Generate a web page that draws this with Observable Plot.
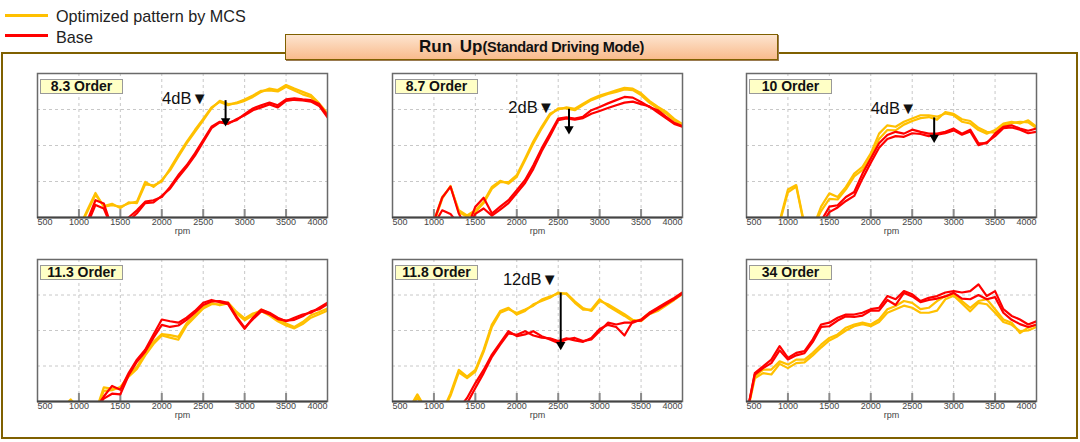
<!DOCTYPE html>
<html><head><meta charset="utf-8">
<script src="https://cdn.jsdelivr.net/npm/d3@7"></script>
<script src="https://cdn.jsdelivr.net/npm/@observablehq/plot@0.6"></script>
<style>
body{margin:0;background:#fff;font-family:"Liberation Sans",Arial,sans-serif;}
#root{position:relative;width:1080px;height:442px;overflow:hidden;background:#fff;}
.leg-line{position:absolute;height:3px;}
.leg-text{position:absolute;font-size:16.2px;color:#222;line-height:18px;white-space:nowrap;}
.frame{position:absolute;left:1px;top:52px;width:1077px;height:387px;border:2px solid #7F6000;box-sizing:border-box;}
.title{position:absolute;left:285px;top:34px;width:493px;height:26px;box-sizing:border-box;border:1.5px solid #7F6000;
  background:linear-gradient(to bottom,#fde4cf,#f9bb8c);box-shadow:1px 1px 0 #9a7a50;text-align:center;
  font-weight:bold;color:#111;line-height:24px;white-space:nowrap;}
.title .big{font-size:17px;word-spacing:3px;}
.title .small{font-size:14.5px;letter-spacing:-0.3px;}
.tag{position:absolute;width:83px;height:15px;box-sizing:border-box;border:1px solid #999;background:#ffffc6;
  font-weight:bold;font-size:14px;line-height:13px;text-align:center;color:#111;white-space:nowrap;}
.panel{position:absolute;}
</style></head><body><div id="root"></div>
<script>
// ---- data (each series ends at 4000 rpm, step 100 rpm) ----
const rpmTicks = [500,1000,1500,2000,2500,3000,3500,4000];
const gridRpm = [1000,1500,2000,2500,3000,3500];
const gridDb = [10,20,30];
const panelTitles = ["8.3 Order","8.7 Order","10 Order","11.3 Order","11.8 Order","34 Order"];
const legendLabels = ["Optimized pattern by MCS","Base"];

// 8.3 Order
const opt83a = [-3,2.0,6.8,3.0,3.4,3.0,3.9,4.4,9.9,8.5,10.4,13.1,16.9,20.6,23.8,27.0,30.3,32.4,31.5,31.7,32.4,33.5,34.9,35.8,35.4,36.8,35.8,34.9,34.0,31.7,28.9];
const opt83b = [-3,1.5,6.3,3.2,3.8,2.6,4.2,4.0,9.2,8.9,10.0,13.6,17.4,21.0,24.3,27.4,30.6,32.1,31.2,31.9,32.8,33.9,35.2,35.3,35.0,36.3,35.3,34.2,33.5,31.2,28.3];
const base83a = [-1,4.8,3.9,-3,-3,0,2.0,4.4,4.8,5.7,8.5,11.8,14.5,17.8,21.5,25.2,26.6,26.3,27.0,28.7,30.3,31.2,31.9,31.2,32.8,33.1,32.8,32.6,31.5,28.4];
const base83b = [-2,3.5,2.5,-3,-3,-1,1.2,4.0,4.2,6.0,8.0,11.2,14.0,17.2,21.0,24.8,26.4,26.0,27.3,28.4,29.8,30.6,31.4,30.6,32.4,32.7,32.5,32.2,31.0,27.8];
// 8.7 Order
const opt87a = [-1,5.7,8.5,2.0,0.6,2.0,4.4,8.5,10.2,9.4,11.3,15.9,20.6,24.7,28.4,30.3,30.3,29.8,31.2,32.6,33.5,34.3,34.9,35.6,35.4,34.0,31.9,30.3,28.9,27.0,25.6];
const opt87b = [-1.5,5.2,8.8,1.5,0.2,1.5,4.0,8.0,9.8,9.8,11.8,16.4,21.2,25.2,28.8,30.0,30.6,30.2,31.6,32.9,33.9,34.6,35.3,36.0,35.8,34.5,32.4,30.8,29.4,27.4,25.9];
const base87a = [-1,5.5,8.6,1.1,-3,3.0,5.5,1.1,3.0,4.8,7.6,10.4,14.5,19.2,23.3,27.5,27.8,27.5,28.0,29.8,30.7,31.7,32.6,33.5,33.3,32.1,30.7,29.8,28.0,26.3,25.4];
const base87b = [-2,2.0,1.0,-2,-3,1.0,2.5,0.5,2.2,4.0,6.8,9.6,13.5,18.4,22.6,27.0,27.5,27.2,27.6,28.8,29.6,30.4,31.2,31.9,32.2,31.5,30.9,29.2,27.6,26.0,25.2];
// 10 Order
const opt10a = [-1,7.8,9.0,-2,-3,3.0,6.7,5.7,8.5,12.2,14.1,17.8,23.3,25.6,25.2,26.6,27.5,28.4,28.4,28.0,28.9,28.4,26.6,26.1,24.3,23.3,24.3,26.1,26.6,26.1,27.0,25.2];
const opt10b = [-1.5,7.0,8.6,-2.5,-3,1.8,5.2,5.0,7.8,11.4,13.2,16.8,21.8,24.3,24.2,25.8,26.8,27.6,27.9,27.2,29.3,28.8,27.3,26.8,24.9,23.8,23.6,25.6,26.2,26.6,26.4,24.8];
const base10a = [-1,3.0,3.4,5.7,7.1,12.2,16.4,20.6,22.9,23.8,23.3,24.4,23.8,23.3,23.3,23.8,24.7,23.3,24.4,20.6,20.6,23.3,25.2,25.6,24.7,24.1,24.7];
const base10b = [-2,1.5,2.8,4.6,6.0,10.8,15.2,19.4,21.8,22.6,22.4,23.4,23.2,22.6,23.0,23.4,24.2,23.0,23.9,20.1,20.9,22.6,24.8,25.0,24.4,23.4,23.8];
// 11.3 Order
const opt113a = [-2,0.6,-2,-3,-3,4.0,3.6,3.7,7.5,9.8,13.6,16.8,19.0,18.7,18.2,22.0,24.3,26.6,27.8,27.1,27.6,24.8,22.9,24.3,25.9,24.8,23.1,22.0,21.0,22.4,24.3,25.2,26.2];
const opt113b = [-2,0.2,-2,-3,-3,3.0,3.2,4.1,7.0,9.2,13.0,16.2,18.6,18.0,17.4,21.4,23.8,26.2,27.4,27.4,27.9,25.3,23.4,24.8,25.5,24.2,22.6,21.4,20.6,21.8,23.6,24.6,25.6];
const base113a = [-2,1.4,4.4,3.3,8.0,11.8,14.6,18.9,23.1,22.6,22.2,23.6,25.5,27.8,28.6,28.0,27.4,23.6,20.5,23.6,25.9,25.0,23.6,22.6,23.6,24.5,25.0,26.4,27.8];
const base113b = [-2,0.8,2.2,2.0,7.4,11.2,14.0,18.0,21.6,21.0,21.4,23.0,25.0,27.2,28.2,28.3,27.8,24.0,20.8,23.2,25.4,24.6,23.2,22.8,23.0,24.0,25.4,26.0,27.4];
// 11.8 Order
const opt118a = [-2,2.0,-2,-3,-3,2.3,8.9,7.0,8.9,14.6,21.7,25.5,26.4,24.5,25.5,27.4,28.3,29.2,30.7,30.2,27.8,25.9,25.9,28.8,26.9,25.5,24.1,22.6,23.1,25.0,25.9,27.4,29.0,30.7];
const opt118b = [-2,1.0,-2,-3,-3,1.6,8.2,6.6,8.4,14.0,21.0,25.0,26.0,24.9,25.9,27.0,28.7,29.6,30.4,30.5,28.2,26.3,25.5,28.3,27.4,26.0,24.6,23.0,22.6,24.6,25.5,27.0,28.6,30.3];
const base118a = [-2,1.0,5.2,8.9,13.2,16.5,19.8,18.4,18.9,19.8,18.4,17.5,16.5,17.5,17.9,17.0,17.5,19.8,22.2,21.7,22.2,22.2,23.1,25.0,26.4,27.8,29.2,30.7];
const base118b = [-2,-0.5,3.8,8.0,12.6,16.0,19.2,18.8,19.8,18.6,18.0,17.8,17.0,17.8,17.2,16.8,17.9,20.4,21.6,21.0,18.6,22.6,22.8,24.6,26.0,27.4,28.8,30.4];
// 34 Order
const opt34a = [-4,7.0,9.0,9.0,11.3,10.4,11.8,11.8,13.7,16.0,17.9,18.9,20.8,21.7,22.2,21.7,23.1,26.0,26.9,28.3,27.8,26.0,26.4,28.3,29.7,30.2,28.3,26.4,28.3,28.8,26.0,23.1,22.2,19.3,20.8,21.7];
const opt34b = [-4,6.5,8.0,7.6,10.6,9.4,10.8,11.0,13.0,15.2,17.2,18.4,20.0,21.2,21.8,21.2,22.4,25.0,26.0,27.0,26.4,25.0,25.0,25.6,28.8,29.8,27.6,25.4,27.8,27.4,25.0,22.4,21.6,19.8,20.0,21.0];
const base34a = [-4,8.0,9.9,11.8,15.6,12.3,13.7,14.2,17.5,21.7,22.2,23.6,24.5,24.5,25.0,26.0,26.4,29.7,28.8,31.1,30.2,28.3,29.2,29.7,30.7,31.1,30.7,31.1,33.0,29.7,31.1,26.0,24.1,23.1,21.7,22.6];
const base34b = [-4,7.6,9.4,10.8,14.4,11.8,13.0,13.6,16.8,21.0,21.2,22.8,24.0,23.8,24.2,25.6,25.6,28.6,27.2,30.6,29.6,28.0,28.6,29.0,29.6,30.6,29.0,28.8,30.0,28.8,29.4,25.0,23.0,21.8,21.0,21.6];

// annotations per panel
const noteText    = ["4dB\u25BC","2dB\u25BC","4dB\u25BC",null,"12dB\u25BC",null];
const noteTextRpm = [2555,2450,2550,null,2495,null];
const noteTextDb  = [33.0,30.5,30.3,null,34.4,null];
const arrowRpm    = [2770,2630,2765,null,2530,null];
const arrowFrom   = [32.6,30.2,27.8,null,30.7,null];
const arrowTo     = [26.8,24.6,22.2,null,16.0,null];

const optRuns  = [[opt83a,opt83b],[opt87a,opt87b],[opt10a,opt10b],[opt113a,opt113b],[opt118a,opt118b],[opt34a,opt34b]];
const baseRuns = [[base83a,base83b],[base87a,base87b],[base10a,base10b],[base113a,base113b],[base118a,base118b],[base34a,base34b]];

const ORANGE = "#FFC000", RED = "#FF0000";

// ---- page layout ----
const root = document.getElementById("root");
function el(cls, style, html){const d=document.createElement("div");d.className=cls;Object.assign(d.style,style||{});if(html!=null)d.innerHTML=html;root.appendChild(d);return d;}

el("leg-line",{left:"5px",top:"14px",width:"43px",background:ORANGE});
el("leg-text",{left:"56px",top:"7px"},legendLabels[0]);
el("leg-line",{left:"5px",top:"34px",width:"43px",background:RED});
el("leg-text",{left:"56px",top:"28px"},legendLabels[1]);
el("frame",{});
el("title",{},'<span class="big">Run Up</span><span class="small">(Standard Driving Mode)</span>');

function toPoints(arr, run, kind){
  const n = arr.length;
  return arr.map((v,i)=>({rpm: 4000 - 100*(n-1-i), db: v, run, kind}));
}

const colLeft = [37,392,746], rowTop = [73,259], plotH = [144,142], plotW = 290;
const mL = 2, mR = 2, mT = 2, mB = 28;
const fmt = d => String(d);

for (let i = 0; i < 6; i++) {
  const col = i % 3, row = Math.floor(i / 3);
  const H = plotH[row];
  const data = [
    ...toPoints(optRuns[i][0], "o1", "opt"),
    ...toPoints(optRuns[i][1], "o2", "opt"),
    ...toPoints(baseRuns[i][0], "b1", "base"),
    ...toPoints(baseRuns[i][1], "b2", "base")
  ];
  const axisOpts = {tickSize: 0, tickPadding: 1, fontSize: 9, fill: "#444", label: null, tickFormat: fmt};
  const marks = [
    Plot.ruleX(gridRpm, {stroke: "#c8c8c8", strokeDasharray: "3,3", strokeWidth: 1}),
    Plot.ruleY(gridDb, {stroke: "#c8c8c8", strokeDasharray: "3,3", strokeWidth: 1}),
    Plot.ruleX(gridRpm, {insetTop: H - 8, stroke: "#8a8a8a", strokeWidth: 2}),
    Plot.line(data, {x: "rpm", y: "db", z: "run", stroke: "kind", strokeWidth: 2.2, clip: true, curve: "linear"}),
    Plot.frame({stroke: "#6a6a6a", strokeWidth: 1.5}),
    Plot.ruleY([0], {stroke: "#444", strokeWidth: 2}),
    Plot.axisX([rpmTicks[0]], {...axisOpts, textAnchor: "start"}),
    Plot.axisX(rpmTicks.slice(1, -1), axisOpts),
    Plot.axisX([rpmTicks[rpmTicks.length - 1]], {...axisOpts, textAnchor: "end"}),
    Plot.text(["rpm"], {frameAnchor: "bottom", dy: 16, fontSize: 9, fill: "#444"})
  ];
  if (noteText[i]) {
    const note = [{t: noteText[i], x: noteTextRpm[i], y: noteTextDb[i], ax: arrowRpm[i], y1: arrowFrom[i], y2: arrowTo[i]}];
    marks.push(
      Plot.link(note, {x1: "ax", x2: "ax", y1: "y1", y2: "y2", stroke: "#000", strokeWidth: 2}),
      Plot.dot(note, {x: "ax", y: "y2", symbol: "triangle", rotate: 180, r: 3.5, fill: "#000", stroke: "none"}),
      Plot.text(note, {x: "x", y: "y", text: "t", textAnchor: "end", fontSize: 16.5, fill: "#111", fontFamily: "Liberation Sans, DejaVu Sans, sans-serif"})
    );
  }
  const svg = Plot.plot({
    width: plotW + mL + mR, height: H + mT + mB,
    marginLeft: mL, marginRight: mR, marginTop: mT, marginBottom: mB,
    x: {domain: [500, 4000]},
    y: {domain: [0, 40], axis: null},
    color: {domain: ["opt", "base"], range: [ORANGE, RED]},
    style: {fontFamily: "Liberation Sans, Arial, sans-serif", fontSize: "9px", background: "transparent", overflow: "visible"},
    marks
  });
  const wrap = el("panel", {left: (colLeft[col] - mL) + "px", top: (rowTop[row] - mT) + "px"});
  wrap.appendChild(svg);
  el("tag", {left: (colLeft[col] + 3) + "px", top: (rowTop[row] + 6) + "px"}, panelTitles[i]);
}
</script></body></html>
